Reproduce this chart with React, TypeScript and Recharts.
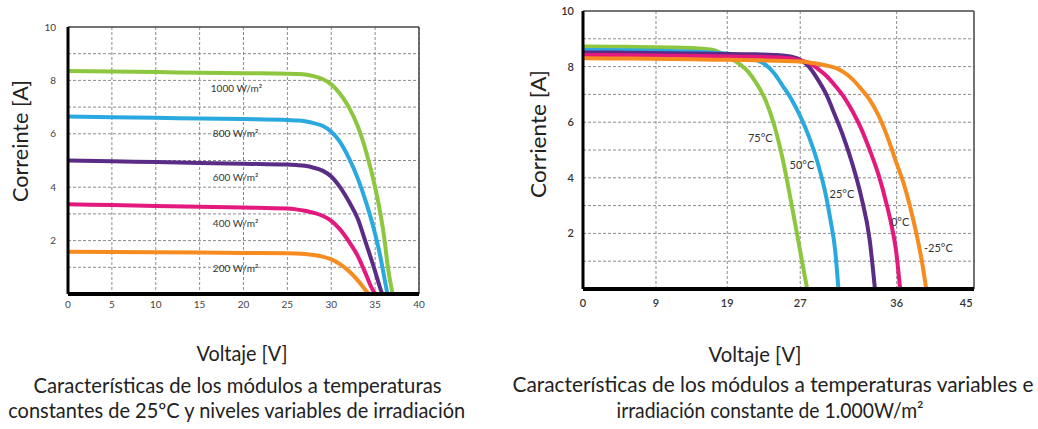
import React from "react";
import {
  LineChart,
  Line,
  XAxis,
  YAxis,
  CartesianGrid,
  ReferenceLine,
  ReferenceDot,
} from "recharts";

const FONT = "Lato, 'Open Sans', sans-serif";

const GREEN = "#8dc63f";
const BLUE = "#29a9e0";
const PURPLE = "#5b2c86";
const MAGENTA = "#e3197d";
const ORANGE = "#f68b1f";

// shared current axis
const ampTicks = [2, 4, 6, 8, 10];
const ampGrid = [1, 2, 3, 4, 5, 6, 7, 8, 9];

// ---- left: 25ºC, variable irradiance ----
const irrVoltTicks = [0, 5, 10, 15, 20, 25, 30, 35, 40];

const v1000 = [0, 5, 10, 15, 20, 25, 26, 27, 28, 29, 30, 31, 32, 33, 34, 35, 35.5, 36, 36.5, 37];
const a1000 = [8.35, 8.33, 8.31, 8.29, 8.27, 8.25, 8.24, 8.22, 8.16, 8.05, 7.85, 7.5, 7.0, 6.3, 5.3, 4.0, 3.2, 2.2, 0.9, 0];
const v800 = [0, 5, 10, 15, 20, 25, 26, 27, 28, 29, 30, 31, 32, 33, 34, 35, 35.5, 36, 36.4];
const a800 = [6.65, 6.62, 6.6, 6.57, 6.55, 6.52, 6.5, 6.47, 6.4, 6.3, 6.08, 5.7, 5.1, 4.35, 3.4, 2.25, 1.55, 0.7, 0];
const v600 = [0, 5, 10, 15, 20, 25, 26, 27, 28, 29, 30, 31, 32, 33, 34, 35, 35.5, 35.8];
const a600 = [5.0, 4.97, 4.94, 4.91, 4.88, 4.85, 4.83, 4.8, 4.73, 4.62, 4.4, 4.0, 3.47, 2.84, 1.86, 0.85, 0.3, 0];
const v400 = [0, 5, 10, 15, 20, 25, 26, 27, 28, 29, 30, 31, 32, 33, 34, 34.5, 35];
const a400 = [3.36, 3.33, 3.3, 3.27, 3.24, 3.2, 3.17, 3.12, 3.04, 2.93, 2.74, 2.42, 1.97, 1.44, 0.7, 0.3, 0];
const v200 = [0, 5, 10, 15, 20, 25, 26, 27, 28, 29, 30, 31, 32, 33, 33.5, 34, 34.3];
const a200 = [1.58, 1.57, 1.56, 1.55, 1.54, 1.53, 1.52, 1.5, 1.46, 1.4, 1.3, 1.12, 0.86, 0.52, 0.32, 0.1, 0];

const irrNames = ["1000 W/m²", "800 W/m²", "600 W/m²", "400 W/m²", "200 W/m²"];
const irrLabelVolt = [19.2, 19.1, 19.1, 19.1, 19.1];
const irrLabelAmp = [7.68, 6.03, 4.38, 2.66, 0.97];

// ---- right: 1.000 W/m², variable temperature ----
// the source axis is unevenly labelled; ticks sit where the picture draws them
const tempTickPos = [0, 8.4, 16.6, 25, 36.1, 44.1];
const tempTickLabels = ["0", "9", "19", "27", "36", "45"];
const tempGrid = [8.4, 16.6, 25, 36.1];

const v75 = [0, 5, 10, 13, 15, 16, 17, 18, 19, 20, 21, 22, 23, 24, 25, 25.8];
const a75 = [8.72, 8.71, 8.69, 8.66, 8.6, 8.47, 8.3, 8.1, 7.82, 7.38, 6.8, 5.9, 4.65, 3.05, 1.35, 0];
const v50 = [0, 5, 10, 15, 17, 18, 19, 20, 21, 22, 23, 24, 25, 26, 27, 28, 28.5, 29, 29.4];
const a50 = [8.6, 8.59, 8.56, 8.5, 8.45, 8.4, 8.33, 8.23, 8.07, 7.76, 7.3, 6.82, 6.22, 5.48, 4.55, 3.3, 2.45, 1.45, 0];
const v25 = [0, 5, 10, 15, 20, 22, 23, 24, 25, 26, 27, 28, 29, 30, 31, 32, 33, 33.6];
const a25 = [8.51, 8.5, 8.48, 8.46, 8.44, 8.42, 8.4, 8.36, 8.25, 8.0, 7.55, 7.0, 6.25, 5.45, 4.5, 3.35, 1.75, 0];
const v0 = [0, 5, 10, 15, 20, 23, 24, 25, 26, 27, 28, 29, 30, 31, 32, 33, 34, 35, 35.5, 36, 36.5];
const a0 = [8.42, 8.41, 8.39, 8.37, 8.35, 8.32, 8.29, 8.22, 8.13, 7.93, 7.67, 7.32, 6.92, 6.4, 5.78, 5.0, 4.12, 2.98, 2.3, 1.45, 0];
const vM25 = [0, 5, 10, 15, 20, 25, 26, 27, 28, 29, 30, 31, 32, 33, 34, 35, 36, 37, 38, 38.5, 39, 39.5];
const aM25 = [8.3, 8.29, 8.27, 8.25, 8.23, 8.18, 8.15, 8.1, 8.04, 7.96, 7.8, 7.55, 7.2, 6.8, 6.25, 5.5, 4.6, 3.7, 2.5, 1.8, 1.0, 0];

const tempNames = ["75°C", "50°C", "25°C", "0°C", "-25°C"];
const tempLabelVolt = [20.4, 25.2, 29.8, 36.5, 40.9];
const tempLabelAmp = [5.42, 4.46, 3.42, 2.42, 1.46];

const toPts = (v: number[], a: number[]) => v.map((x, k) => ({ v: x, a: a[k] }));

const irrSeries = [
  { color: GREEN, pts: toPts(v1000, a1000) },
  { color: BLUE, pts: toPts(v800, a800) },
  { color: PURPLE, pts: toPts(v600, a600) },
  { color: MAGENTA, pts: toPts(v400, a400) },
  { color: ORANGE, pts: toPts(v200, a200) },
];

const tempSeries = [
  { color: GREEN, pts: toPts(v75, a75) },
  { color: BLUE, pts: toPts(v50, a50) },
  { color: PURPLE, pts: toPts(v25, a25) },
  { color: MAGENTA, pts: toPts(v0, a0) },
  { color: ORANGE, pts: toPts(vM25, aM25) },
];

const gridStroke = "#8c8c8c";
const borderStroke = "#444";

function IrradianceChart() {
  return (
    <LineChart width={440} height={320} margin={{ top: 27, right: 21, bottom: 0, left: 0 }}>
      <CartesianGrid stroke={gridStroke} strokeDasharray="3 2" horizontalValues={ampGrid} />
      <XAxis
        type="number"
        dataKey="v"
        domain={[0, 40]}
        ticks={irrVoltTicks}
        interval={0}
        height={26}
        tickLine={false}
        tickSize={0}
        tickMargin={7}
        axisLine={{ stroke: "#000", strokeWidth: 4 }}
        tick={{ fontSize: 10, fill: "#444" }}
      />
      <YAxis
        type="number"
        domain={[0, 10]}
        ticks={ampTicks}
        interval={0}
        width={68}
        tickLine={false}
        tickSize={0}
        tickMargin={12}
        axisLine={{ stroke: "#000", strokeWidth: 3 }}
        tick={{ fontSize: 10, fill: "#444" }}
      />
      <ReferenceLine y={10} stroke={borderStroke} strokeWidth={1.5} />
      <ReferenceLine x={40} stroke={borderStroke} strokeWidth={1.5} />
      {irrSeries.map((s, k) => (
        <Line
          key={k}
          data={s.pts}
          dataKey="a"
          type="monotone"
          stroke={s.color}
          strokeWidth={4}
          dot={false}
          isAnimationActive={false}
        />
      ))}
      {irrNames.map((name, k) => (
        <ReferenceDot
          key={name}
          x={irrLabelVolt[k]}
          y={irrLabelAmp[k]}
          r={0}
          fill="none"
          stroke="none"
          label={{ value: name, position: "center", fontSize: 10, fill: "#333" }}
        />
      ))}
    </LineChart>
  );
}

function TemperatureChart() {
  return (
    <LineChart width={480} height={320} margin={{ top: 11, right: 16, bottom: 0, left: 0 }}>
      <CartesianGrid
        stroke={gridStroke}
        strokeDasharray="3 2"
        horizontalValues={ampGrid}
        verticalValues={tempGrid}
      />
      <XAxis
        type="number"
        dataKey="v"
        domain={[0, 45]}
        ticks={tempTickPos}
        tickFormatter={(_: number, i: number) => tempTickLabels[i]}
        interval={0}
        height={31}
        tickLine={false}
        tickSize={0}
        tickMargin={10}
        axisLine={{ stroke: "#000", strokeWidth: 4 }}
        tick={{ fontSize: 11, fill: "#333", fontWeight: 600 }}
      />
      <YAxis
        type="number"
        domain={[0, 10]}
        ticks={ampTicks}
        interval={0}
        width={73}
        tickLine={false}
        tickSize={0}
        tickMargin={9}
        axisLine={{ stroke: "#000", strokeWidth: 3 }}
        tick={{ fontSize: 11, fill: "#333", fontWeight: 600 }}
      />
      <ReferenceLine y={10} stroke={borderStroke} strokeWidth={1.5} />
      <ReferenceLine x={45} stroke={borderStroke} strokeWidth={1.5} />
      {tempSeries.map((s, k) => (
        <Line
          key={k}
          data={s.pts}
          dataKey="a"
          type="monotone"
          stroke={s.color}
          strokeWidth={4}
          dot={false}
          isAnimationActive={false}
        />
      ))}
      {tempNames.map((name, k) => (
        <ReferenceDot
          key={name}
          x={tempLabelVolt[k]}
          y={tempLabelAmp[k]}
          r={0}
          fill="none"
          stroke="none"
          label={{ value: name, position: "center", fontSize: 11, fill: "#333" }}
        />
      ))}
    </LineChart>
  );
}

function Titles() {
  const t = { fontFamily: FONT, fill: "#222", fontSize: 22 } as const;
  const c = { fontFamily: FONT, fill: "#222", fontSize: 20.5 } as const;
  return (
    <svg
      width={1038}
      height={429}
      style={{ position: "absolute", left: 0, top: 0, pointerEvents: "none" }}
    >
      <text {...t} x={0} y={0} textAnchor="middle" textLength={122} lengthAdjust="spacingAndGlyphs"
        transform="translate(28,141) rotate(-90)">Correinte [A]</text>
      <text {...t} x={0} y={0} textAnchor="middle" textLength={128} lengthAdjust="spacingAndGlyphs"
        transform="translate(546,134) rotate(-90)">Corriente [A]</text>

      <text {...t} x={242} y={360.5} textAnchor="middle" textLength={91} lengthAdjust="spacingAndGlyphs">Voltaje [V]</text>
      <text {...t} x={755} y={361.5} textAnchor="middle" textLength={93} lengthAdjust="spacingAndGlyphs">Voltaje [V]</text>

      <text {...c} x={237.5} y={393} textAnchor="middle" textLength={408} lengthAdjust="spacingAndGlyphs">
        Características de los módulos a temperaturas
      </text>
      <text {...c} x={236.7} y={418} textAnchor="middle" textLength={457} lengthAdjust="spacingAndGlyphs">
        constantes de 25ºC y niveles variables de irradiación
      </text>
      <text {...c} x={773} y={391.5} textAnchor="middle" textLength={521} lengthAdjust="spacingAndGlyphs">
        Características de los módulos a temperaturas variables e
      </text>
      <text {...c} x={770} y={417.5} textAnchor="middle" textLength={307} lengthAdjust="spacingAndGlyphs">
        irradiación constante de 1.000W/m²
      </text>
    </svg>
  );
}

export default function App() {
  return (
    <div
      style={{
        position: "absolute",
        left: 0,
        top: 0,
        width: 1038,
        height: 429,
        background: "#fff",
        fontFamily: FONT,
        overflow: "hidden",
      }}
    >
      <div style={{ position: "absolute", left: 0, top: 0 }}>
        <IrradianceChart />
      </div>
      <div style={{ position: "absolute", left: 510, top: 0 }}>
        <TemperatureChart />
      </div>
      <Titles />
    </div>
  );
}
